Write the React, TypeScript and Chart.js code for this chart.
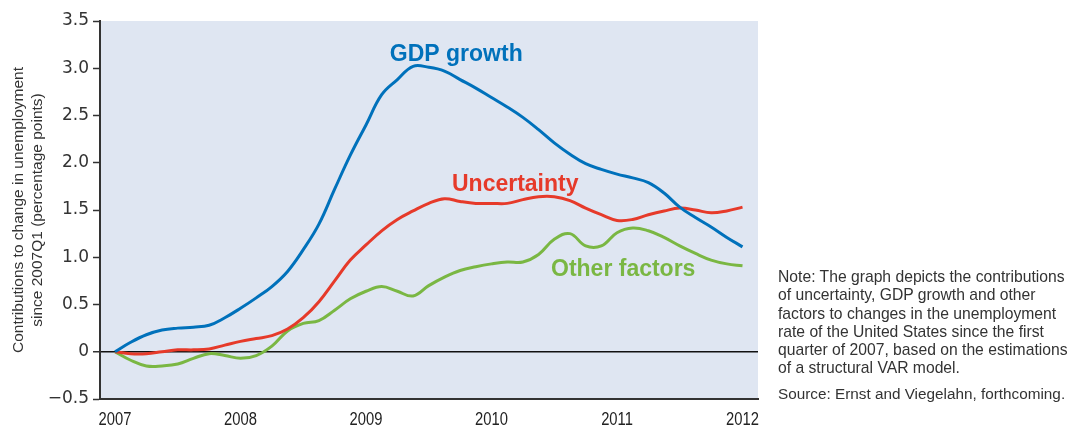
import React, { useEffect, useRef } from "react";
import { Chart, registerables } from "chart.js";

Chart.register(...registerables);

// Time points (decimal years, every half quarter)
const periods = [
  2007, 2007.125, 2007.25, 2007.375, 2007.5, 2007.625, 2007.75, 2007.875,
  2008, 2008.125, 2008.25, 2008.375, 2008.5, 2008.625, 2008.75, 2008.875,
  2009, 2009.125, 2009.25, 2009.375, 2009.5, 2009.625, 2009.75, 2009.875,
  2010, 2010.125, 2010.25, 2010.375, 2010.5, 2010.625, 2010.75, 2010.875,
  2011, 2011.125, 2011.25, 2011.375, 2011.5, 2011.625, 2011.75, 2011.875,
  2012,
];

const gdpGrowth = [
  0, 0.1, 0.18, 0.23, 0.25, 0.26, 0.28, 0.36,
  0.46, 0.57, 0.69, 0.85, 1.08, 1.35, 1.72, 2.08,
  2.4, 2.72, 2.88, 3.02, 3.01, 2.97, 2.88, 2.79,
  2.69, 2.59, 2.48, 2.35, 2.21, 2.09, 1.99, 1.93,
  1.88, 1.84, 1.79, 1.68, 1.53, 1.42, 1.32, 1.21,
  1.11,
];

const uncertainty = [
  0, -0.02, -0.02, 0.0, 0.02, 0.02, 0.03, 0.07,
  0.11, 0.14, 0.17, 0.24, 0.36, 0.53, 0.75, 0.97,
  1.13, 1.28, 1.4, 1.49, 1.57, 1.62, 1.59, 1.57,
  1.57, 1.57, 1.61, 1.64, 1.64, 1.6, 1.52, 1.45,
  1.39, 1.4, 1.45, 1.49, 1.52, 1.5, 1.47, 1.49,
  1.53,
];

const otherFactors = [
  0, -0.09, -0.15, -0.15, -0.13, -0.07, -0.02, -0.04,
  -0.07, -0.04, 0.06, 0.22, 0.3, 0.33, 0.44, 0.56,
  0.64, 0.69, 0.64, 0.59, 0.7, 0.79, 0.86, 0.9,
  0.93, 0.95, 0.95, 1.03, 1.19, 1.25, 1.12, 1.12,
  1.26, 1.31, 1.28, 1.21, 1.12, 1.04, 0.97, 0.93,
  0.91,
];

const seriesNames = ["GDP growth", "Uncertainty", "Other factors"];
const seriesColors = ["#0071bb", "#e63a2a", "#7ab743"];

const xTickValues = [2007, 2008, 2009, 2010, 2011, 2012];
const xTickLabels = ["2007", "2008", "2009", "2010", "2011", "2012"];
const yTickValues = [-0.5, 0, 0.5, 1.0, 1.5, 2.0, 2.5, 3.0, 3.5];

// label anchor points (data coordinates, left/baseline)
const labelAnchorX = [2009.19, 2009.685, 2010.474];
const labelAnchorY = [3.077, 1.706, 0.8];

const yTitle = [
  "Contributions to change in unemployment",
  "since 2007Q1 (percentage points)",
];

const titleFragment = "(percentage points)";

const noteLines = [
  "Note: The graph depicts the contributions",
  "of uncertainty, GDP growth and other",
  "factors to changes in the unemployment",
  "rate of the United States since the first",
  "quarter of 2007, based on the estimations",
  "of a structural VAR model.",
];
const sourceLine = "Source: Ernst and Viegelahn, forthcoming.";

const bgPlugin = {
  id: "plotBg",
  beforeDraw(chart: any) {
    const { ctx, chartArea } = chart;
    if (!chartArea) return;
    ctx.save();
    ctx.fillStyle = "#dfe6f2";
    ctx.fillRect(
      chartArea.left,
      chartArea.top,
      chartArea.right - chartArea.left,
      chartArea.bottom - chartArea.top
    );
    ctx.restore();
  },
};

const labelPlugin = {
  id: "seriesLabels",
  afterDatasetsDraw(chart: any) {
    const { ctx } = chart;
    const xs = chart.scales.x;
    const ys = chart.scales.y;
    ctx.save();
    ctx.font = "bold 23px 'Liberation Sans', Arial, sans-serif";
    ctx.textAlign = "left";
    ctx.textBaseline = "alphabetic";
    seriesNames.forEach((name, i) => {
      ctx.fillStyle = seriesColors[i];
      ctx.fillText(
        name,
        xs.getPixelForValue(labelAnchorX[i]),
        ys.getPixelForValue(labelAnchorY[i])
      );
    });
    ctx.restore();
  },
};

// condensed x-axis tick labels
const xLabelPlugin = {
  id: "xLabels",
  afterDraw(chart: any) {
    const { ctx } = chart;
    const xs = chart.scales.x;
    const baseY = chart.chartArea.bottom + 25.5;
    ctx.save();
    ctx.font = "18px 'Liberation Sans', Arial, sans-serif";
    ctx.fillStyle = "#222";
    ctx.textAlign = "center";
    ctx.textBaseline = "alphabetic";
    xTickValues.forEach((v, i) => {
      const px = xs.getPixelForValue(v);
      ctx.save();
      ctx.translate(px, baseY);
      ctx.scale(0.82, 1);
      ctx.fillText(xTickLabels[i], 0, 0);
      ctx.restore();
    });
    ctx.restore();
  },
};

function toPoints(values: number[]) {
  return values.map((v, i) => ({ x: periods[i], y: v }));
}

export default function App() {
  const canvasRef = useRef<HTMLCanvasElement | null>(null);

  useEffect(() => {
    if (!canvasRef.current) return;
    const series = [gdpGrowth, uncertainty, otherFactors];
    const chart = new Chart(canvasRef.current, {
      type: "line",
      data: {
        datasets: series.map((vals, i) => ({
          label: seriesNames[i],
          data: toPoints(vals),
          borderColor: seriesColors[i],
          backgroundColor: seriesColors[i],
          borderWidth: 3,
          pointRadius: 0,
          tension: 0.4,
          fill: false,
        })),
      },
      options: {
        animation: false,
        responsive: true,
        maintainAspectRatio: false,
        layout: { padding: { top: 21, right: 311, left: 0, bottom: 0 } },
        plugins: {
          legend: { display: false },
          tooltip: { enabled: false },
          title: { display: false },
        },
        scales: {
          x: {
            type: "linear",
            min: 2006.8805,
            max: 2012.1235,
            afterBuildTicks: (scale: any) => {
              scale.ticks = xTickValues.map((v) => ({ value: v }));
            },
            afterFit: (scale: any) => {
              scale.height = 29;
            },
            grid: { display: false, drawTicks: false },
            border: { display: true, color: "#333", width: 2 },
            ticks: { display: false },
          },
          y: {
            type: "linear",
            min: -0.5,
            max: 3.5,
            afterBuildTicks: (scale: any) => {
              scale.ticks = yTickValues.map((v) => ({ value: v }));
            },
            afterFit: (scale: any) => {
              scale.width = 100;
            },
            grid: {
              display: true,
              drawOnChartArea: true,
              drawTicks: true,
              tickLength: 7,
              tickColor: "#333",
              tickWidth: 1.5,
              color: (ctx: any) =>
                ctx.tick && ctx.tick.value === 0 ? "#111" : "rgba(0,0,0,0)",
              lineWidth: (ctx: any) => (ctx.tick && ctx.tick.value === 0 ? 1.5 : 1),
            },
            border: { display: true, color: "#333", width: 2 },
            ticks: {
              padding: 4,
              color: "#333",
              font: { family: "'DejaVu Sans', sans-serif", size: 17 },
              callback: (v: any) => {
                const n = Number(v);
                if (n === 0) return "0";
                if (n < 0) return "\u2212" + Math.abs(n).toFixed(1);
                return n.toFixed(1);
              },
            },
            title: {
              display: true,
              text: yTitle,
              color: "#333",
              padding: { top: 9, bottom: 0 },
              font: {
                family: "'Liberation Sans', Arial, sans-serif",
                size: 15.5,
                lineHeight: 1.25,
              },
            },
          },
        },
      },
      plugins: [bgPlugin, labelPlugin, xLabelPlugin],
    });
    return () => chart.destroy();
  }, []);

  return (
    <div
      style={{
        position: "absolute",
        left: 0,
        top: 0,
        width: 1069,
        height: 428,
        background: "#fff",
        overflow: "hidden",
      }}
    >
      <div style={{ position: "absolute", left: 0, top: 0, width: 1069, height: 428 }}>
        <canvas ref={canvasRef} />
      </div>
      <div
        style={{
          position: "absolute",
          left: 638,
          top: -23,
          fontFamily: "'Liberation Sans', Arial, sans-serif",
          fontWeight: "bold",
          fontSize: 22,
          lineHeight: "22px",
          color: "#111",
          whiteSpace: "nowrap",
        }}
      >
        {titleFragment}
      </div>
      <div
        style={{
          position: "absolute",
          left: 778,
          top: 268,
          fontFamily: "'Liberation Sans', Arial, sans-serif",
          fontSize: 15.7,
          lineHeight: "18.3px",
          color: "#333",
          whiteSpace: "nowrap",
        }}
      >
        {noteLines.map((l, i) => (
          <div key={i}>{l}</div>
        ))}
        <div style={{ marginTop: 7.5, fontSize: 15.3 }}>{sourceLine}</div>
      </div>
    </div>
  );
}
